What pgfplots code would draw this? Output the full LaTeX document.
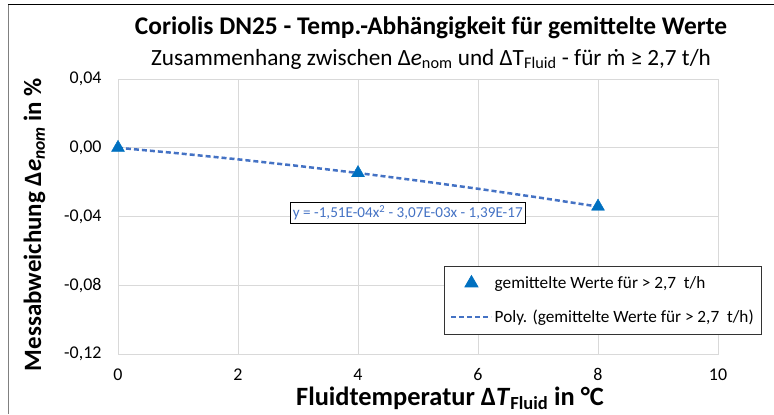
\documentclass[border=0pt]{standalone}
\usepackage{pgfplots}
\pgfplotsset{compat=1.18}
\usepackage{fontspec}
\setmainfont{Carlito}
\definecolor{mblue}{RGB}{0,112,192}
\definecolor{tblue}{RGB}{68,114,196}
\definecolor{gridc}{RGB}{217,217,217}
\begin{document}
\begin{tikzpicture}[x=1bp,y=1bp]
\path[use as bounding box] (0,0) rectangle (774,414);
\draw[black,line width=1bp] (8,409) -- (774,409);
\draw[gray,line width=1bp] (8,409) -- (8,0);
\node[font=\fontsize{25.5}{30}\selectfont\bfseries] at (431,386) {Coriolis DN25 - Temp.-Abhängigkeit für gemittelte Werte};
\node[font=\fontsize{23.3}{27}\selectfont] at (431,355) {Zusammenhang zwischen Δ\textit{e}\textsubscript{nom} und ΔT\textsubscript{Fluid} - für ṁ ≥ 2,7 t/h};
\begin{axis}[
  at={(118bp,60bp)}, anchor=south west,
  scale only axis, width=600bp, height=275bp,
  xmin=0, xmax=10, ymin=-0.12, ymax=0.04,
  xtick={0,2,4,6,8,10},
  ytick={-0.12,-0.08,-0.04,0,0.04},
  yticklabels={{-0,12},{-0,08},{-0,04},{0,00},{0,04}},
  grid=major,
  major grid style={gridc, line width=0.8bp},
  axis line style={gridc, line width=0.8bp},
  major tick length=0pt,
  tick label style={font=\fontsize{18}{21}\selectfont},
  /pgf/number format/assume math mode=true,
  yticklabel style={xshift=-13bp},
  xticklabel style={yshift=-11bp},
  xlabel={\textbf{Fluidtemperatur Δ\textit{T}\textsubscript{Fluid} in °C}},
  xlabel style={font=\fontsize{26.5}{30}\selectfont, yshift=1bp, xshift=32bp},
  ylabel={\textbf{Messabweichung Δ\textit{e}\textsubscript{\textit{nom}} in \%}},
  ylabel style={font=\fontsize{25}{30}\selectfont, yshift=12bp, xshift=-8bp},
  legend image code/.code={\draw[mark repeat=2,mark phase=2] plot coordinates {(0bp,0bp) (20bp,0bp) (40bp,0bp)};},
  legend style={at={(0.543,0.32)}, anchor=north west, draw=black!80, line width=0.8bp,
    font=\fontsize{17.3}{20}\selectfont, row sep=16bp, inner xsep=6bp, inner ysep=8bp},
  legend cell align=left,
]
\addplot[only marks, mark=triangle*, mark size=7.5bp, color=mblue] coordinates {(0,0) (4,-0.0147) (8,-0.0342)};
\addlegendentry{gemittelte Werte für > 2,7~ t/h}
\addplot[tblue, line width=2.5bp, dash pattern=on 5bp off 3bp, no marks] coordinates {
(0,0) (1,-0.003221) (2,-0.006744) (3,-0.010569) (4,-0.014696) (5,-0.019125) (6,-0.023856) (7,-0.028889) (8,-0.034224)};
\addlegendentry{Poly. (gemittelte Werte für > 2,7~ t/h)}
\node[draw=black, fill=white, line width=0.8bp, text=tblue, font=\fontsize{15.2}{18}\selectfont, inner sep=3bp] at (axis cs:4.83,-0.038) {y = -1,51E-04x\textsuperscript{2} - 3,07E-03x - 1,39E-17};
\end{axis}
\end{tikzpicture}
\end{document}
